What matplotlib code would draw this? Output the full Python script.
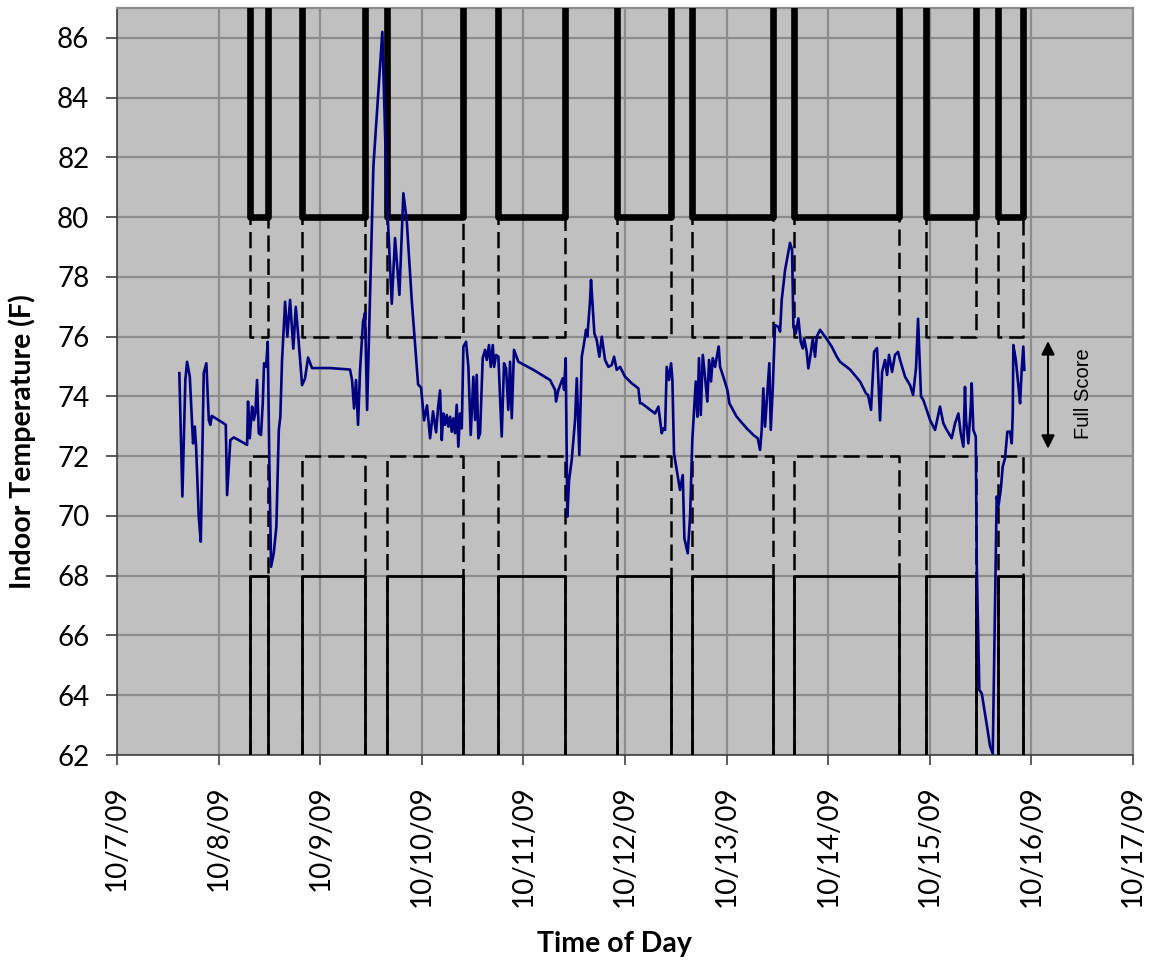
import numpy as np
import matplotlib.pyplot as plt
import matplotlib.ticker as mticker

# days since 10/7/09 00:00
day_labels = ["10/7/09", "10/8/09", "10/9/09", "10/10/09", "10/11/09", "10/12/09",
              "10/13/09", "10/14/09", "10/15/09", "10/16/09", "10/17/09"]

# occupied periods (start, end) in days
occ_start = [1.309, 1.821, 2.657, 3.750, 4.921, 5.659, 6.663, 7.963, 8.671]
occ_end = [1.483, 2.441, 3.406, 4.409, 5.453, 6.457, 7.697, 8.455, 8.917]

# comfort limits
hi_limit = 80
hi_full = 76
lo_full = 72
lo_limit = 68

# measured indoor temperature
t_day = [0.613, 0.643, 0.672, 0.689, 0.716, 0.748, 0.765, 0.778, 0.804, 0.824,
         0.853, 0.879, 0.903, 0.918, 0.932, 1.050, 1.070, 1.083, 1.115, 1.149,
         1.280, 1.289, 1.306, 1.329, 1.345, 1.361, 1.378, 1.395, 1.417, 1.434,
         1.447, 1.467, 1.483, 1.499, 1.516, 1.542, 1.568, 1.592, 1.607, 1.624,
         1.654, 1.676, 1.703, 1.735, 1.759, 1.784, 1.821, 1.850, 1.880, 1.919,
         2.096, 2.293, 2.313, 2.333, 2.352, 2.372, 2.392, 2.421, 2.441, 2.461,
         2.523, 2.611, 2.655, 2.704, 2.736, 2.779, 2.818, 2.851, 2.901, 2.963,
         2.992, 3.022, 3.051, 3.081, 3.110, 3.140, 3.159, 3.179, 3.196, 3.212,
         3.228, 3.245, 3.261, 3.278, 3.294, 3.310, 3.327, 3.343, 3.359, 3.376,
         3.393, 3.409, 3.435, 3.458, 3.481, 3.507, 3.524, 3.540, 3.556, 3.573,
         3.599, 3.622, 3.639, 3.661, 3.678, 3.698, 3.711, 3.730, 3.753, 3.786,
         3.809, 3.829, 3.851, 3.868, 3.885, 3.907, 3.950, 4.098, 4.262, 4.311,
         4.321, 4.344, 4.387, 4.400, 4.416, 4.432, 4.449, 4.475, 4.508, 4.525,
         4.550, 4.574, 4.596, 4.616, 4.629, 4.656, 4.665, 4.698, 4.721, 4.747,
         4.771, 4.803, 4.836, 4.869, 4.892, 4.918, 4.951, 5.000, 5.066, 5.131,
         5.148, 5.164, 5.229, 5.295, 5.328, 5.361, 5.377, 5.394, 5.410, 5.433,
         5.453, 5.466, 5.482, 5.509, 5.541, 5.568, 5.584, 5.617, 5.640, 5.662,
         5.679, 5.696, 5.712, 5.728, 5.745, 5.765, 5.787, 5.810, 5.827, 5.846,
         5.863, 5.886, 5.909, 5.922, 5.935, 5.967, 6.007, 6.027, 6.099, 6.198,
         6.263, 6.306, 6.329, 6.345, 6.361, 6.378, 6.401, 6.420, 6.434, 6.454,
         6.476, 6.509, 6.526, 6.542, 6.575, 6.624, 6.644, 6.657, 6.680, 6.706,
         6.729, 6.749, 6.762, 6.788, 6.804, 6.828, 6.848, 6.870, 6.887, 6.919,
         6.969, 7.034, 7.084, 7.116, 7.215, 7.313, 7.372, 7.392, 7.421, 7.451,
         7.480, 7.510, 7.530, 7.559, 7.579, 7.598, 7.628, 7.657, 7.687, 7.707,
         7.756, 7.805, 7.835, 7.864, 7.884, 7.913, 7.936, 8.002, 8.051, 8.100,
         8.133, 8.166, 8.215, 8.248, 8.281, 8.304, 8.330, 8.346, 8.356, 8.379,
         8.403, 8.412, 8.428, 8.452, 8.462, 8.487, 8.511, 8.543, 8.566, 8.593,
         8.619, 8.642, 8.658, 8.674, 8.698, 8.717, 8.740, 8.763, 8.789, 8.806,
         8.816, 8.822, 8.846, 8.871, 8.888, 8.904, 8.920, 8.930]
temp = [74.78, 70.65, 74.55, 75.16, 74.66, 72.43, 72.99, 72.32, 69.98, 69.14,
        74.78, 75.11, 73.21, 73.05, 73.35, 73.10, 73.05, 70.70, 72.54, 72.63,
        72.38, 73.83, 72.60, 73.66, 73.21, 73.43, 74.55, 72.77, 72.71, 73.77,
        75.11, 74.99, 75.83, 71.76, 68.30, 68.75, 69.64, 72.88, 73.32, 75.22,
        77.17, 76.00, 77.23, 75.60, 77.00, 76.00, 74.38, 74.60, 75.30, 74.95,
        74.95, 74.90, 74.55, 73.60, 74.55, 73.05, 74.90, 76.50, 76.80, 73.55,
        81.70, 86.20, 80.70, 77.10, 79.30, 77.40, 80.80, 79.90, 77.20, 74.40,
        74.30, 73.20, 73.70, 72.60, 73.50, 72.80, 73.60, 74.20, 72.54, 73.43,
        73.05, 73.38, 72.99, 73.32, 72.82, 73.27, 72.77, 73.72, 72.32, 73.43,
        72.93, 75.67, 75.83, 74.99, 72.71, 74.66, 73.21, 74.72, 72.60, 72.77,
        75.28, 75.56, 75.22, 75.72, 74.99, 75.72, 74.99, 75.39, 75.33, 72.66,
        75.11, 74.94, 73.55, 75.16, 73.27, 75.56, 75.16, 74.89, 74.55, 74.22,
        73.83, 74.22, 74.61, 74.22, 75.28, 69.98, 71.20, 71.87, 73.21, 74.61,
        72.04, 75.33, 75.77, 76.23, 76.00, 77.23, 77.90, 76.11, 75.89, 75.33,
        76.00, 75.22, 74.99, 75.05, 75.33, 74.89, 74.99, 74.66, 74.44, 74.27,
        73.77, 73.77, 73.60, 73.43, 73.66, 72.77, 72.93, 72.88, 74.99, 74.55,
        75.11, 74.55, 72.09, 71.54, 70.87, 71.37, 69.25, 68.75, 69.98, 72.54,
        73.55, 74.50, 73.32, 75.28, 73.38, 75.39, 74.66, 73.83, 75.22, 74.50,
        75.28, 74.99, 75.44, 75.67, 74.99, 74.66, 74.22, 73.77, 73.32, 72.93,
        72.71, 72.60, 72.21, 72.88, 74.27, 72.99, 74.16, 75.11, 72.88, 74.27,
        76.39, 76.33, 76.17, 77.23, 78.23, 79.14, 78.90, 76.33, 76.11, 76.61,
        75.83, 75.61, 75.94, 75.50, 74.94, 75.44, 75.94, 75.33, 76.00, 76.23,
        76.00, 75.67, 75.33, 75.16, 74.90, 74.50, 74.10, 74.05, 73.55, 75.49,
        75.62, 73.20, 74.82, 75.22, 74.72, 75.39, 74.82, 75.39, 75.49, 75.22,
        74.66, 74.38, 74.05, 74.95, 76.60, 74.00, 73.88, 73.21, 72.88, 73.66,
        73.10, 72.88, 72.60, 73.10, 73.43, 72.77, 72.32, 74.32, 73.21, 72.43,
        73.66, 74.44, 72.88, 72.66, 68.30, 64.18, 64.06, 63.39, 62.89, 62.28,
        62.05, 67.19, 70.65, 70.31, 70.87, 71.65, 71.93, 72.82, 72.82, 72.43,
        73.43, 75.72, 75.22, 74.38, 73.77, 74.89, 75.67, 74.89]


def schedule(level, off):
    xs, ys = [], []
    for s, e in zip(occ_start, occ_end):
        xs += [s, s, e, e]
        ys += [off, level, level, off]
    return xs, ys


plt.rcParams['font.family'] = ['Lato', 'DejaVu Sans']

fig = plt.figure(figsize=(11.51, 9.64), dpi=100)
ax = fig.add_axes([0.1017, 0.2168, 0.8827, 0.7749])
ax.set_facecolor('#c0c0c0')

dash = (0, (6.5, 2.8))
x, y = schedule(hi_full, 100)
ax.plot(x, y, color='black', lw=1.8, linestyle=dash, zorder=2)
x, y = schedule(lo_full, 40)
ax.plot(x, y, color='black', lw=1.8, linestyle=dash, zorder=2)
x, y = schedule(hi_limit, 100)
ax.plot(x, y, color='black', lw=4.8, solid_joinstyle='round', zorder=3)
x, y = schedule(lo_limit, 40)
ax.plot(x, y, color='black', lw=2.0, zorder=3)

ax.plot(t_day, temp, color='#000080', lw=1.9, zorder=4)

# full score band marker
ax.annotate('', xy=(9.163, lo_full + 0.25), xytext=(9.163, hi_full - 0.15),
            arrowprops=dict(arrowstyle='<|-|>', color='black', lw=1.5,
                            mutation_scale=20, shrinkA=0, shrinkB=0), zorder=5)
ax.text(9.508, 74.1, 'Full Score', rotation=90, ha='center', va='center',
        fontsize=14.5, family='Liberation Sans')

ax.set_xlim(0, 10)
ax.set_ylim(62, 87)
ax.set_xticks(range(11))
ax.set_xticklabels(day_labels, rotation=90, fontsize=20)
ax.yaxis.set_major_locator(mticker.MultipleLocator(2))
ax.tick_params(axis='y', labelsize=20, length=8, width=1.2, color='#404040', pad=12)
ax.tick_params(axis='x', length=7, width=1.2, color='#404040', pad=15)
ax.grid(True, color='#8c8c8c', lw=1.6, zorder=1)
ax.set_axisbelow(True)
for side in ['top', 'right']:
    ax.spines[side].set_color('#8c8c8c')
    ax.spines[side].set_linewidth(1.6)
for side in ['left', 'bottom']:
    ax.spines[side].set_color('#404040')
    ax.spines[side].set_linewidth(1.2)

ax.set_ylabel('Indoor Temperature (F)', fontsize=20.5, fontweight='bold')
ax.yaxis.set_label_coords(-0.08, 0.42)
ax.set_xlabel('Time of Day', fontsize=20.5, fontweight='bold')
ax.xaxis.set_label_coords(0.49, -0.236)

plt.savefig('out.png', dpi=100)
